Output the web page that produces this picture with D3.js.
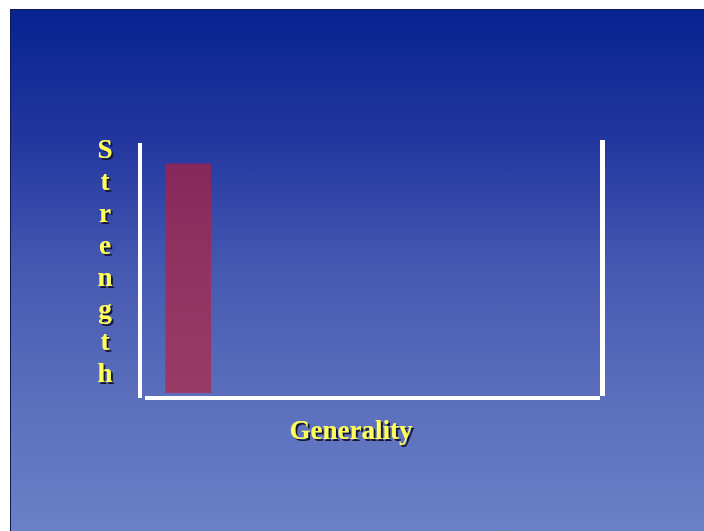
<!DOCTYPE html>
<html>
<head>
<meta charset="utf-8">
<script src="https://cdn.jsdelivr.net/npm/d3@7"></script>
<style>
  html, body { margin: 0; padding: 0; background: #ffffff; }
  svg { display: block; }
</style>
</head>
<body>
<svg id="chart" width="704" height="531"></svg>
<script>
// ---- data ----
const categories = ["Specific"];
const generalityStart = [0.45];
const generalityEnd = [1.45];
const strengthValues = [90];
const yAxisTitle = "Strength";
const xAxisTitle = "Generality";

const svg = d3.select("#chart");
const W = 704, H = 531;

// background slide with gradient
const defs = svg.append("defs");
const grad = defs.append("linearGradient").attr("id", "bg")
  .attr("x1", 0).attr("y1", 0).attr("x2", 0).attr("y2", 1);
[[0, "#062391"], [0.25, "#23369f"], [0.5, "#4659b1"], [0.75, "#5b6fbd"], [1, "#6a80c7"]]
  .forEach(([o, c]) => grad.append("stop").attr("offset", o).attr("stop-color", c));

const shadow = defs.append("filter").attr("id", "shadow")
  .attr("x", "-20%").attr("y", "-20%").attr("width", "160%").attr("height", "160%");
shadow.append("feDropShadow").attr("dx", 2).attr("dy", 2).attr("stdDeviation", 0.4)
  .attr("flood-color", "#141530").attr("flood-opacity", 1);

svg.append("rect").attr("x", 10).attr("y", 9).attr("width", W - 10).attr("height", H - 9)
  .attr("fill", "url(#bg)");
svg.append("line").attr("x1", 10.5).attr("x2", 10.5).attr("y1", 9).attr("y2", H)
  .attr("stroke", "#101a50").attr("stroke-width", 1);
svg.append("line").attr("x1", 10).attr("x2", W).attr("y1", 9.5).attr("y2", 9.5)
  .attr("stroke", "#101a50").attr("stroke-width", 1);

// scales
const x = d3.scaleLinear().domain([0, 10]).range([145, 600]);
const y = d3.scaleLinear().domain([0, 100]).range([393, 138]);

// bar
svg.selectAll("rect.bar").data(categories).join("rect")
  .attr("class", "bar")
  .attr("x", (d, i) => x(generalityStart[i]))
  .attr("width", (d, i) => x(generalityEnd[i]) - x(generalityStart[i]))
  .attr("y", (d, i) => y(strengthValues[i]))
  .attr("height", (d, i) => y(0) - y(strengthValues[i]))
  .attr("fill", "#c01c30").attr("fill-opacity", 0.62);

// axes as thick white lines
svg.append("rect").attr("x", 138).attr("y", 143).attr("width", 4).attr("height", 255).attr("fill", "#ffffff");
svg.append("rect").attr("x", 145).attr("y", 396).attr("width", 455).attr("height", 4).attr("fill", "#ffffff");
svg.append("rect").attr("x", 600).attr("y", 140).attr("width", 5).attr("height", 256).attr("fill", "#ffffff");

// titles
const font = "'Liberation Serif', 'Times New Roman', serif";
function shadowText(g, txt, px, py, size) {
  g.append("text").attr("x", px).attr("y", py).text(txt)
    .attr("font-family", font).attr("font-weight", "bold").attr("font-size", size)
    .attr("text-anchor", "middle").attr("fill", "#ffff5c")
    .attr("filter", "url(#shadow)");
}
const gy = svg.append("g");
yAxisTitle.split("").forEach((ch, i) => shadowText(gy, ch, 105, 158 + i * 32, 27));
shadowText(svg.append("g"), xAxisTitle, 351, 439, 27);
</script>
</body>
</html>
